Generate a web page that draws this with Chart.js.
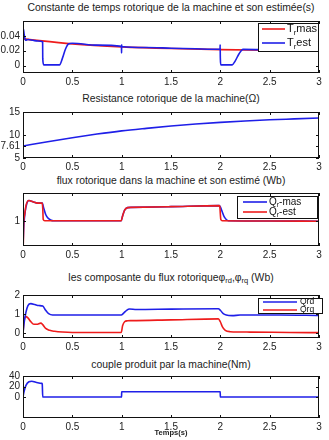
<!DOCTYPE html>
<html>
<head>
<meta charset="utf-8">
<script src="https://cdn.jsdelivr.net/npm/chart.js@4"></script>
<style>
body{margin:0;background:#fff;width:329px;height:440px;position:relative;overflow:hidden;font-family:"Liberation Sans",Arial,sans-serif;}
.ttl{position:absolute;left:23px;width:296px;text-align:center;font-size:10.4px;color:#222;white-space:nowrap;line-height:12px;}
.ttl sub{font-size:7.5px;vertical-align:-2px;line-height:0;}
canvas{position:absolute;left:0;}
#xlab{position:absolute;left:23px;width:296px;top:428px;text-align:center;font-size:7.5px;font-weight:bold;color:#222;}
</style>
</head>
<body>
<div class="ttl" style="top:2px">Constante de temps rotorique de la machine et son estimée(s)</div>
<canvas id="c1"></canvas>
<div class="ttl" style="top:93px">Resistance rotorique de la machine(Ω)</div>
<canvas id="c2"></canvas>
<div class="ttl" style="top:175px">flux rotorique dans la machine et son estimé (Wb)</div>
<canvas id="c3"></canvas>
<div class="ttl" style="top:272px">les composante du flux rotoriqueφ<sub>rd</sub>,φ<sub>rq</sub> (Wb)</div>
<canvas id="c4"></canvas>
<div class="ttl" style="top:359px">couple produit par la machine(Nm)</div>
<canvas id="c5"></canvas>
<div id="xlab">Temps(s)</div>
<script>
// --- données ---
// constante de temps rotorique
const tTrMas = [0, 0.5, 1, 1.5, 2, 2.5, 3];
const trMas = [0.036, 0.0292, 0.0252, 0.0229, 0.0215, 0.0206, 0.0200];
const tTrEst = [0, 0.003, 0.012, 0.025, 0.05, 0.1, 0.15, 0.199, 0.2, 0.21, 0.37, 0.4, 0.43, 0.46, 0.5, 0.75, 0.998, 0.999, 1.0, 1.001, 1.25, 1.5, 1.75, 1.997, 1.998, 2.0, 2.005, 2.12, 2.15, 2.19, 2.23, 2.5, 2.75, 3];
const trEst = [0, 0.05, 0.042, 0.034, 0.035, 0.034, 0.033, 0.032, 0.01, 0.001, 0.001, 0.01, 0.022, 0.029, 0.03, 0.0275, 0.0258, 0.017, 0.028, 0.0256, 0.0243, 0.0234, 0.0226, 0.022, 0.028, 0.01, 0.001, 0.001, 0.006, 0.016, 0.0218, 0.0212, 0.0206, 0.0202];

// resistance rotorique
const tRr = [0, 0.25, 0.5, 0.75, 1, 1.25, 1.5, 1.75, 2, 2.25, 2.5, 2.75, 3];
const rr = [7.61, 8.55, 9.4, 10.2, 10.9, 11.45, 11.95, 12.4, 12.75, 13.05, 13.3, 13.5, 13.7];

// flux rotorique
const tQrMas = [0, 0.005, 0.01, 0.02, 0.04, 0.06, 0.1, 0.15, 0.195, 0.2, 0.21, 0.23, 0.25, 0.28, 0.31, 0.6, 0.995, 1.01, 1.03, 1.06, 1.1, 1.5, 1.99, 2.0, 2.02, 2.04, 2.06, 2.08, 2.5, 3];
const qrMas = [0, 0.55, 0.9, 1.3, 1.7, 1.8, 1.75, 1.7, 1.7, 1.65, 1.5, 1.25, 1.12, 1.03, 1.0, 1.0, 1.0, 1.2, 1.42, 1.52, 1.53, 1.56, 1.6, 1.55, 1.35, 1.15, 1.05, 1.0, 0.99, 0.98];
const tQrEst = [0, 0.003, 0.008, 0.015, 0.03, 0.06, 0.1, 0.15, 0.195, 0.2, 0.205, 0.22, 0.6, 0.995, 1.01, 1.03, 1.06, 1.1, 1.5, 1.99, 1.995, 2.005, 2.02, 2.5, 3];
const qrEst = [0, 0.1, 1.0, 1.2, 1.6, 1.8, 1.75, 1.7, 1.7, 1.5, 1.05, 1.0, 1.0, 1.0, 1.2, 1.42, 1.52, 1.53, 1.56, 1.6, 1.55, 1.05, 1.0, 0.99, 0.98];

// composantes du flux
const tQrd = [0, 0.01, 0.03, 0.05, 0.08, 0.12, 0.16, 0.2, 0.23, 0.26, 0.3, 0.6, 0.995, 1.02, 1.05, 1.08, 1.15, 1.5, 1.98, 2.0, 2.03, 2.06, 2.12, 2.2, 2.6, 3];
const qrd = [0, 0.5, 1.1, 1.45, 1.55, 1.5, 1.45, 1.42, 1.2, 1.02, 0.95, 0.95, 0.95, 1.05, 1.2, 1.27, 1.24, 1.26, 1.28, 1.2, 1.02, 0.95, 0.92, 0.95, 0.95, 0.93];
const tQrq = [0, 0.01, 0.03, 0.05, 0.08, 0.11, 0.14, 0.18, 0.2, 0.23, 0.27, 0.32, 0.4, 0.5, 0.995, 1.01, 1.03, 1.06, 1.1, 1.5, 1.98, 2.0, 2.02, 2.05, 2.1, 2.3, 2.7, 3];
const qrq = [0, 0.6, 0.87, 0.8, 0.6, 0.47, 0.47, 0.53, 0.45, 0.25, 0.15, 0.1, 0.06, 0.04, 0.04, 0.4, 0.6, 0.65, 0.66, 0.7, 0.75, 0.6, 0.35, 0.15, 0.08, 0.06, 0.04, 0.03];

// couple
const tCe = [0, 0.01, 0.03, 0.06, 0.09, 0.13, 0.19, 0.195, 0.2, 0.999, 1.0, 1.999, 2.0, 3];
const ce = [0, 10, 22, 29, 30, 28, 26, 25, 0, 0, 10, 10, 0, 0];

// graduations
const xTicks = [0, 0.5, 1, 1.5, 2, 2.5, 3];
const yTicksTr = [0, 0.02, 0.04];
const yTicksRr = [5, 7.61, 10, 15];
const yTicksQr = [1];
const yTicksQdq = [0, 1, 2];
const yTicksCe = [0, 20, 40];

const BLUE = '#1f1fe8';
const RED = '#ee1c1c';
const FONT = '"Liberation Sans", Arial, sans-serif';
const PAD_TOP = 6, XAX = 14;

const pts = (t, v) => t.map((x, i) => ({ x: x, y: v[i] }));

// cadre + graduations vers l'intérieur (style matlab)
const boxTicks = {
    id: 'boxTicks',
    afterDatasetsDraw(chart) {
        const { ctx, chartArea: a, scales: { x, y } } = chart;
        ctx.save();
        ctx.strokeStyle = '#111';
        ctx.lineWidth = 1;
        ctx.strokeRect(a.left + 0.5, a.top + 0.5, a.width - 1, a.height - 1);
        ctx.beginPath();
        x.ticks.forEach(tk => {
            const px = Math.round(x.getPixelForValue(tk.value)) + 0.5;
            ctx.moveTo(px, a.bottom); ctx.lineTo(px, a.bottom - 3);
            ctx.moveTo(px, a.top); ctx.lineTo(px, a.top + 3);
        });
        y.ticks.forEach(tk => {
            const py = Math.round(y.getPixelForValue(tk.value)) + 0.5;
            ctx.moveTo(a.left, py); ctx.lineTo(a.left + 3, py);
            ctx.moveTo(a.right, py); ctx.lineTo(a.right - 3, py);
        });
        ctx.stroke();
        ctx.restore();
    }
};

// légende avec indices
function legendPlugin(o) {
    return {
        id: 'boxLegend',
        afterDraw(chart) {
            const ctx = chart.ctx, a = chart.chartArea;
            const x0 = a.right + o.dx - o.w, y0 = a.top + o.dy;
            ctx.save();
            ctx.fillStyle = '#fff';
            ctx.fillRect(x0, y0, o.w, o.h);
            ctx.strokeStyle = '#111';
            ctx.lineWidth = 1;
            ctx.strokeRect(x0 + 0.5, y0 + 0.5, o.w - 1, o.h - 1);
            o.items.forEach((it, i) => {
                const ly = y0 + o.first + i * o.gap;
                ctx.strokeStyle = chart.data.datasets[it.ds].borderColor;
                ctx.lineWidth = 1.6;
                ctx.beginPath();
                ctx.moveTo(x0 + o.lx1, ly); ctx.lineTo(x0 + o.lx2, ly);
                ctx.stroke();
                ctx.fillStyle = '#111';
                ctx.textBaseline = 'middle';
                let tx = x0 + o.tx;
                ctx.font = o.size + 'px ' + FONT;
                ctx.fillText(it.main, tx, ly);
                tx += ctx.measureText(it.main).width;
                if (it.sub) {
                    ctx.font = (o.size * 0.7) + 'px ' + FONT;
                    ctx.fillText(it.sub, tx, ly + o.size * 0.35);
                    tx += ctx.measureText(it.sub).width;
                }
                if (it.rest) {
                    ctx.font = o.size + 'px ' + FONT;
                    ctx.fillText(it.rest, tx, ly);
                }
            });
            ctx.restore();
        }
    };
}

function panel(id, boxTop, boxBottom, yMin, yMax, yTicks, datasets, legend) {
    const cv = document.getElementById(id);
    cv.width = 329;
    cv.height = boxBottom - boxTop + PAD_TOP + XAX;
    cv.style.top = (boxTop - PAD_TOP) + 'px';
    const plugins = [boxTicks];
    if (legend) plugins.push(legendPlugin(legend));
    new Chart(cv.getContext('2d'), {
        type: 'line',
        data: { datasets: datasets },
        options: {
            responsive: false,
            animation: false,
            layout: { padding: { top: PAD_TOP, right: 10, left: 0, bottom: 0 } },
            plugins: { legend: { display: false }, tooltip: { enabled: false } },
            elements: {
                point: { radius: 0 },
                line: { borderWidth: 1.6, cubicInterpolationMode: 'monotone' }
            },
            scales: {
                x: {
                    type: 'linear', min: 0, max: 3,
                    grid: { display: false, drawTicks: false, tickLength: 0 }, border: { display: false },
                    afterBuildTicks: s => { s.ticks = xTicks.map(v => ({ value: v })); },
                    ticks: { padding: 3, color: '#222', font: { family: FONT, size: 10 }, callback: v => String(v), maxRotation: 0 },
                    afterFit: s => { s.height = XAX; }
                },
                y: {
                    min: yMin, max: yMax,
                    grid: { display: false, drawTicks: false, tickLength: 0 }, border: { display: false },
                    afterBuildTicks: s => { s.ticks = yTicks.map(v => ({ value: v })); },
                    ticks: { padding: 3, color: '#222', font: { family: FONT, size: 10 }, callback: v => String(v) },
                    afterFit: s => { s.width = 23; }
                }
            }
        },
        plugins: plugins
    });
}

panel('c1', 18, 73, -0.01, 0.06, yTicksTr, [
    { data: pts(tTrMas, trMas), borderColor: RED, order: 1 },
    { data: pts(tTrEst, trEst), borderColor: BLUE, order: 0 }
], { dx: 0, w: 61, dy: 2, h: 29, first: 6, gap: 14, lx1: 4, lx2: 27, tx: 29, size: 11,
     items: [{ ds: 0, main: 'T', sub: 'r', rest: 'mas' }, { ds: 1, main: 'T', sub: 'r', rest: 'est' }] });

panel('c2', 109, 158, 5, 15, yTicksRr, [
    { data: pts(tRr, rr), borderColor: BLUE }
]);

panel('c3', 190, 246, 0, 2.1, yTicksQr, [
    { data: pts(tQrMas, qrMas), borderColor: BLUE, order: 1 },
    { data: pts(tQrEst, qrEst), borderColor: RED, order: 0 }
], { dx: -1, w: 81, dy: 3, h: 23, first: 6, gap: 10, lx1: 6, lx2: 30, tx: 32, size: 10,
     items: [{ ds: 0, main: 'Q', sub: 'r', rest: '-mas' }, { ds: 1, main: 'Q', sub: 'r', rest: '-est' }] });

panel('c4', 292, 338, -0.25, 2, yTicksQdq, [
    { data: pts(tQrd, qrd), borderColor: BLUE, order: 0 },
    { data: pts(tQrq, qrq), borderColor: RED, order: 1 }
], { dx: 4, w: 65, dy: 3, h: 16, first: 4, gap: 8, lx1: 5, lx2: 39, tx: 42, size: 8.5,
     items: [{ ds: 0, main: 'Qrd' }, { ds: 1, main: 'Qrq' }] });

panel('c5', 373, 418, -40, 40, yTicksCe, [
    { data: pts(tCe, ce), borderColor: BLUE }
]);
</script>
</body>
</html>
